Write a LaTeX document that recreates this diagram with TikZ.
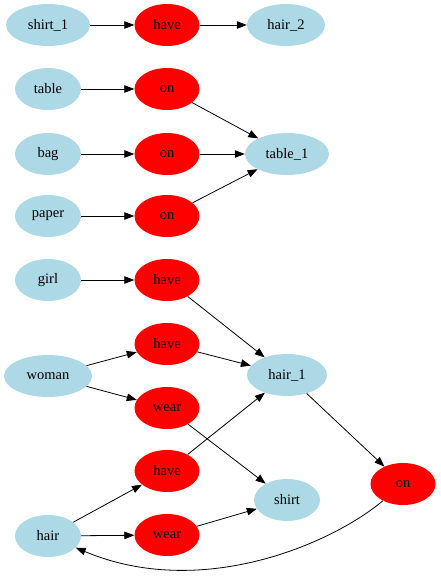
\documentclass[tikz,border=0pt]{standalone}
\usepackage{fontspec}
\setmainfont{Liberation Serif}
\usetikzlibrary{shapes.geometric,arrows.meta}
\definecolor{entityblue}{HTML}{ADD8E6}
\definecolor{relred}{HTML}{FF0000}
\begin{document}
\begin{tikzpicture}[x=1pt,y=-1pt,
  base/.style={ellipse,inner sep=0pt,minimum height=42pt,
    font=\fontsize{14.5}{17}\selectfont},
  ent/.style={base,fill=entityblue,minimum width=#1},
  ent/.default=66pt,
  rel/.style={base,fill=relred,minimum width=65pt},
  edge/.style={-{Triangle[length=10pt,width=7.5pt]},line width=0.8pt,black}]
\useasboundingbox (0,0) rectangle (440,576);

% entities
\node[ent=84pt] (shirt1) at (48,25) {shirt\_1};
\node[ent=78pt] (hair2) at (286,25) {hair\_2};
\node[ent] (table) at (48,89) {table};
\node[ent] (bag) at (48,154) {bag};
\node[ent=84pt] (table1) at (287,154) {table\_1};
\node[ent] (paper) at (48,216) {paper};
\node[ent] (girl) at (48,280) {girl};
\node[ent=88pt] (woman) at (48,376) {woman};
\node[ent=80pt] (hair1) at (287,375) {hair\_1};
\node[ent] (shirt) at (287,500) {shirt};
\node[ent] (hair) at (48,536) {hair};

% relations
\node[rel] (have1) at (167,25) {have};
\node[rel] (on1) at (167,89) {on};
\node[rel] (on2) at (167,154) {on};
\node[rel] (on3) at (167,216) {on};
\node[rel] (have2) at (167,280) {have};
\node[rel] (have3) at (167,344) {have};
\node[rel] (wear1) at (167,408) {wear};
\node[rel] (have4) at (167,471) {have};
\node[rel] (wear2) at (167,535) {wear};
\node[rel] (on4) at (403,484) {on};

% connectors
\draw[edge] (shirt1) -- (have1);
\draw[edge] (have1) -- (hair2);
\draw[edge] (table) -- (on1);
\draw[edge] (on1) -- (table1);
\draw[edge] (bag) -- (on2);
\draw[edge] (on2) -- (table1);
\draw[edge] (paper) -- (on3);
\draw[edge] (on3) -- (table1);
\draw[edge] (girl) -- (have2);
\draw[edge] (have2) -- (hair1);
\draw[edge] (woman) -- (have3);
\draw[edge] (woman) -- (wear1);
\draw[edge] (have3) -- (hair1);
\draw[edge] (wear1) -- (shirt);
\draw[edge] (hair) -- (have4);
\draw[edge] (hair) -- (wear2);
\draw[edge] (have4) -- (hair1);
\draw[edge] (wear2) -- (shirt);
\draw[edge] (hair1) -- (on4);
\draw[edge] (on4) .. controls (330,545) and (200,600) .. (hair);
\end{tikzpicture}
\end{document}
